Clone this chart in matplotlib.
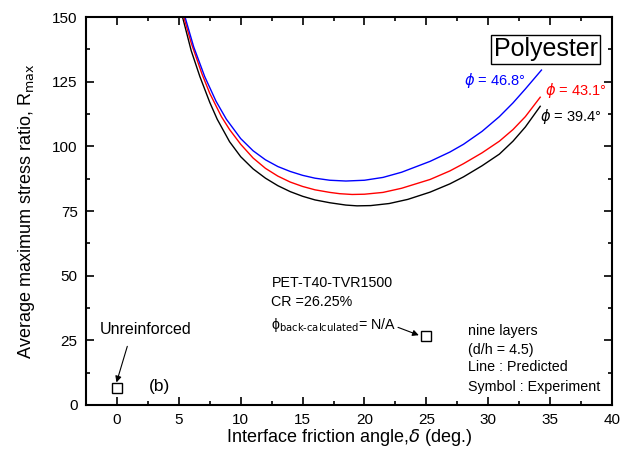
import matplotlib.pyplot as plt

plt.rcParams['font.family'] = ['Liberation Sans', 'DejaVu Sans']
plt.rcParams['mathtext.fontset'] = 'dejavusans'

# predicted curves
x_394 = [5.3, 6.0, 6.7, 7.5, 8.1, 9.1, 10.0, 11.0, 12.0, 13.0, 14.0, 15.0, 16.0, 17.2,
         18.5, 19.4, 20.5, 22.0, 23.5, 25.3, 26.9, 28.0, 29.5, 30.9, 32.0, 33.0, 34.2]
r_394 = [150, 137, 127, 117, 110.5, 101.8, 96.0, 91.3, 87.7, 84.8, 82.5, 80.7, 79.3, 78.2,
         77.3, 77.0, 77.1, 77.9, 79.5, 82.3, 85.5, 88.2, 92.5, 97.0, 102.0, 107.5, 115.5]

x_431 = [5.4, 6.0, 6.87, 7.5, 8.44, 9.1, 10.0, 11.0, 12.0, 13.0, 14.0, 15.0, 16.0, 17.2,
         18.0, 19.0, 20.0, 21.5, 23.0, 25.3, 26.9, 28.0, 29.5, 30.9, 32.0, 33.0, 34.2]
r_431 = [150, 140, 128, 120.5, 111.5, 106.5, 100.8, 95.5, 91.5, 88.5, 86.2, 84.5, 83.2, 82.2,
         81.7, 81.4, 81.5, 82.2, 83.8, 87.2, 90.5, 93.3, 97.5, 102.0, 106.5, 111.5, 119.0]

x_468 = [5.5, 6.2, 7.09, 8.0, 8.84, 10.0, 11.0, 12.0, 13.0, 14.0, 15.0, 16.0, 17.2, 18.5,
         20.0, 21.5, 23.0, 25.3, 26.9, 28.0, 29.5, 30.9, 32.0, 33.0, 34.3]
r_468 = [150, 138.5, 127, 117.5, 110.5, 103.0, 98.3, 94.8, 92.2, 90.3, 88.8, 87.7, 86.9, 86.6,
         86.9, 88.0, 90.0, 94.2, 97.8, 100.8, 105.8, 111.5, 116.8, 122.2, 129.5]

# experiment points
exp_delta = [0, 25]
exp_r = [6.4, 26.7]

fig = plt.figure(figsize=(6.21, 4.61), dpi=100)
ax = fig.add_axes([0.1385, 0.1215, 0.847, 0.8415])

ax.plot(x_394, r_394, color='black', lw=1)
ax.plot(x_431, r_431, color='red', lw=1)
ax.plot(x_468, r_468, color='blue', lw=1)
ax.plot(exp_delta, exp_r, ls='none', marker='s', ms=7, mfc='white', mec='black', mew=1)

ax.set_xlim(-2.5, 40)
ax.set_ylim(0, 150)
ax.set_xticks(range(0, 41, 5))
ax.set_xticks([x + 2.5 for x in range(-5, 40, 5)], minor=True)
ax.set_yticks(range(0, 151, 25))
ax.set_yticks([y + 12.5 for y in range(0, 150, 25)], minor=True)
ax.tick_params(which='both', direction='in', top=True, right=True, width=1.2, labelsize=11)
ax.tick_params(which='major', length=6, pad=6)
ax.tick_params(which='minor', length=3)
for s in ax.spines.values():
    s.set_linewidth(1.5)

ax.set_xlabel(r'Interface friction angle,$\delta$ (deg.)', fontsize=13, labelpad=0)
ax.set_ylabel(r'Average maximum stress ratio, R$_{\rm max}$', fontsize=13, labelpad=11)

ax.text(34.66, 137.6, 'Polyester', fontsize=18, ha='center', va='center',
        bbox=dict(boxstyle='square,pad=0.1', fc='white', ec='black', lw=1))
ax.text(33.0, 125.6, r'$\phi$ = 46.8°', color='blue', fontsize=10.5, ha='right', va='center')
ax.text(34.55, 121.5, r'$\phi$ = 43.1°', color='red', fontsize=10.5, ha='left', va='center')
ax.text(34.15, 111.5, r'$\phi$ = 39.4°', color='black', fontsize=10.5, ha='left', va='center')

ax.text(12.48, 47.2, 'PET-T40-TVR1500', fontsize=10.3, ha='left', va='center')
ax.text(12.48, 39.9, 'CR =26.25%', fontsize=10.3, ha='left', va='center')
ax.text(12.48, 30.9, r'ϕ$_{\rm back\text{-}calculated}$= N/A', fontsize=10.3, ha='left', va='center')
ax.annotate('', xy=(24.6, 26.6), xytext=(22.5, 30.4),
            arrowprops=dict(arrowstyle='-|>', color='black', lw=0.8, mutation_scale=9))

ax.text(28.4, 28.7, 'nine layers', fontsize=10.3, ha='left', va='center')
ax.text(28.4, 21.3, '(d/h = 4.5)', fontsize=10.3, ha='left', va='center')
ax.text(28.4, 14.6, 'Line : Predicted', fontsize=10.3, ha='left', va='center')
ax.text(28.4, 7.1, 'Symbol : Experiment', fontsize=10.3, ha='left', va='center')

ax.text(-1.4, 29.3, 'Unreinforced', fontsize=11.5, ha='left', va='center')
ax.annotate('', xy=(-0.1, 7.7), xytext=(0.9, 23.7),
            arrowprops=dict(arrowstyle='-|>', color='black', lw=0.8, mutation_scale=9))
ax.text(3.4, 7.1, '(b)', fontsize=12.5, ha='center', va='center')

fig.savefig('out.png', dpi=100)
